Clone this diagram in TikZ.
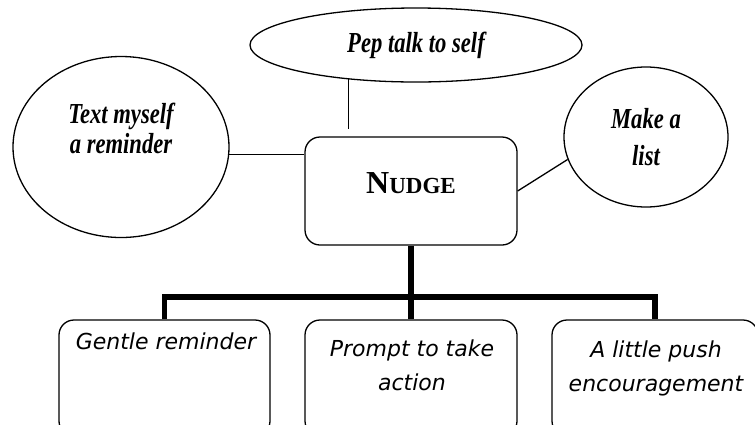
\documentclass[tikz,border=0pt]{standalone}
\usepackage{fontspec}
\setmainfont{Liberation Serif}
\newfontfamily\ovalfont{Liberation Serif}[FakeStretch=0.78]
\newfontfamily\handfont{DejaVu Sans}
\usetikzlibrary{shapes.geometric}
\begin{document}
\begin{tikzpicture}[x=1pt, y=-1pt,
    oval/.style={draw, line width=1.3pt, ellipse, inner sep=0pt},
    ovaltext/.style={font=\ovalfont\fontsize{29}{30}\selectfont\bfseries\itshape, align=center, inner sep=0pt},
    card/.style={draw, line width=1.3pt, rounded corners=15pt, inner sep=0pt},
    cardtext/.style={font=\handfont\fontsize{22}{34}\selectfont\itshape, align=center, inner sep=0pt, anchor=north},
    link/.style={line width=1.3pt},
    tree/.style={line width=5.5pt, line join=miter}]
  \useasboundingbox (0,0) rectangle (755,424);
  % centre box
  \node[card, minimum width=212pt, minimum height=108pt] (nudge) at (411,191) {};
  \node[inner sep=0pt, font=\bfseries] (nudgetext) at (411,183) {\fontsize{32}{32}\selectfont N\fontsize{23}{23}\selectfont UDGE};
  % the three ovals round it
  \node[oval, minimum width=332pt, minimum height=74pt, ovaltext] (pep) at (416,45) {Pep talk to self};
  \node[oval, minimum width=216pt, minimum height=181pt] (textme) at (121,147) {};
  \node[ovaltext] (textmetext) at (121,128) {Text myself\\a reminder};
  \node[oval, minimum width=164pt, minimum height=140pt, ovaltext] (list) at (646,137) {Make a\\[7pt]list};
  \draw[link, shorten >=7pt] (pep.207) -- (pep.207 |- nudge.north);
  \draw[link] (textme.-4) -- (textme.-4 -| nudge.west);
  \draw[link] (nudge.east) -- (list.196);
  % cards below, cut off by the page
  \node[card, minimum width=211pt, minimum height=116pt] (gentle) at (164.5,378) {};
  \node[card, minimum width=212pt, minimum height=116pt] (prompt) at (411,378) {};
  \node[card, minimum width=206pt, minimum height=116pt] (push) at (655,378) {};
  \node[cardtext] (gentletext) at (166,333) {Gentle reminder};
  \node[cardtext] (prompttext) at (412,340) {Prompt to take\\action};
  \node[cardtext] (pushtext) at (656,341) {A little push\\encouragement};
  % tree
  \coordinate (bar) at (411,297);
  \draw[tree] (nudge.south) -- (prompt.north);
  \draw[tree] (gentle.north) -- (gentle.north |- bar) -- (push.north |- bar) -- (push.north);
\end{tikzpicture}
\end{document}
